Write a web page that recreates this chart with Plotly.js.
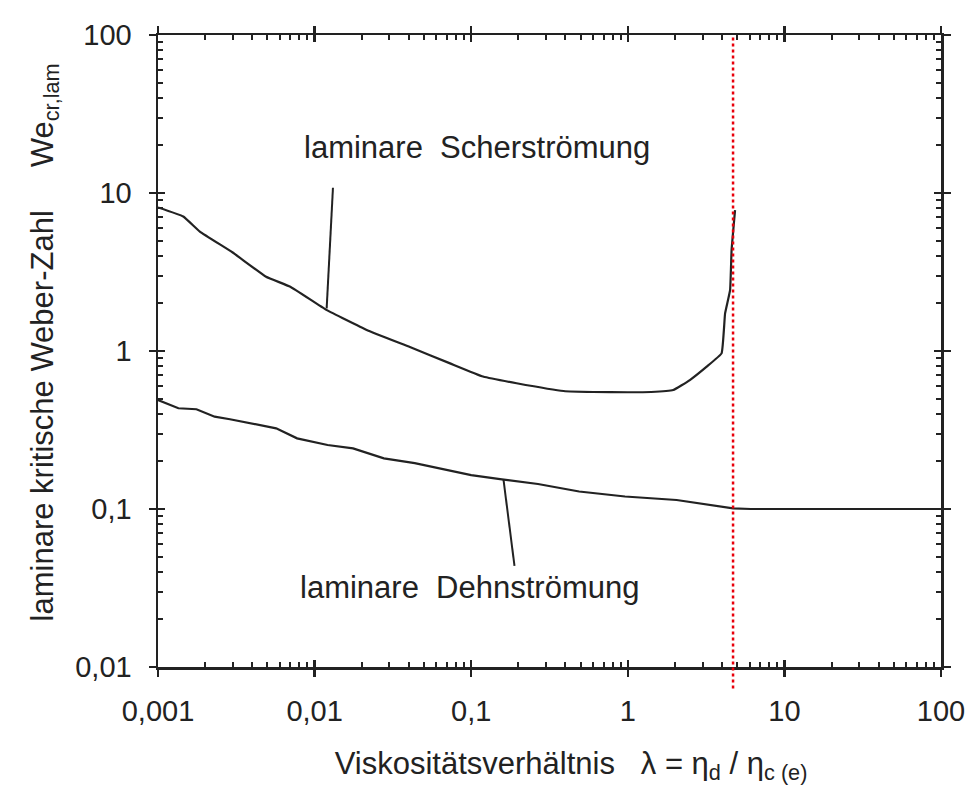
<!DOCTYPE html>
<html>
<head>
<meta charset="utf-8">
<script src="https://cdn.plot.ly/plotly-3.0.1.min.js"></script>
<style>html,body{margin:0;padding:0;background:#fff;}#chart{width:967px;height:795px;}</style>
</head>
<body>
<div id="chart"></div>
<script>
// Laminar shear flow (Scherströmung)
const shearLambda = [0.001, 0.00145, 0.00185, 0.003, 0.0049, 0.007, 0.0119, 0.0215, 0.0406, 0.0733, 0.119, 0.195, 0.389, 0.6, 1.0, 1.41, 1.95, 2.49, 3.19, 3.97, 4.18, 4.5, 4.6, 4.84];
const shearWe     = [8.1, 7.1, 5.7, 4.2, 2.95, 2.55, 1.82, 1.36, 1.06, 0.835, 0.689, 0.625, 0.558, 0.55, 0.548, 0.55, 0.566, 0.655, 0.796, 0.966, 1.73, 2.43, 4.36, 7.8];

// Laminar elongational flow (Dehnströmung)
const dehnLambda = [0.001, 0.00135, 0.00176, 0.0023, 0.00288, 0.00568, 0.00773, 0.0121, 0.0176, 0.0277, 0.0436, 0.0635, 0.1, 0.157, 0.267, 0.489, 0.96, 2.05, 3.74, 4.7, 6.1, 100];
const dehnWe     = [0.49, 0.434, 0.428, 0.384, 0.37, 0.324, 0.28, 0.254, 0.242, 0.209, 0.195, 0.181, 0.164, 0.154, 0.144, 0.129, 0.12, 0.114, 0.1045, 0.101, 0.1, 0.1];

// Marked viscosity ratio (red dotted line)
const criticalLambda = 4.7;

// Tick labels
const xTickVals = [0.001, 0.01, 0.1, 1, 10, 100];
const xTickText = ['0,001', '0,01', '0,1', '1', '10', '100'];
const yTickVals = [0.01, 0.1, 1, 10, 100];
const yTickText = ['0,01', '0,1', '1', '10', '100'];

// Leader lines from labels to curves: [lambda, We] at curve end and label end
const shearLeader = [[0.01194, 1.86], [0.0131, 10.8]];
const dehnLeader  = [[0.1607, 0.154], [0.189, 0.0437]];

const labelShear = 'laminare&nbsp;&nbsp;Scherströmung';
const labelDehn = 'laminare&nbsp;&nbsp;Dehnströmung';

// minor tick positions (2..9 within each decade)
function minorTicks(decades) {
  const out = [];
  decades.slice(0, -1).forEach(d => { for (let k = 2; k <= 9; k++) out.push(k * d); });
  return out;
}
const xMinor = minorTicks(xTickVals);
const yMinor = minorTicks(yTickVals);

const ink = '#222222';
const font = 'Liberation Sans, Arial, sans-serif';

const traces = [
  {x: shearLambda, y: shearWe, mode: 'lines', line: {color: ink, width: 2.2, shape: 'spline', smoothing: 0.3}, name: 'Scherströmung', showlegend: false, hoverinfo: 'skip'},
  {x: dehnLambda, y: dehnWe, mode: 'lines', line: {color: ink, width: 2.2}, name: 'Dehnströmung', showlegend: false, hoverinfo: 'skip'},
  {x: [1], y: [1], xaxis: 'x2', yaxis: 'y2', mode: 'markers', marker: {opacity: 0}, showlegend: false, hoverinfo: 'skip'}
];

const axisCommon = {
  type: 'log',
  showgrid: false,
  zeroline: false,
  showline: true,
  linecolor: ink,
  linewidth: 2.5,
  mirror: 'allticks',
  tickcolor: ink,
  tickwidth: 2.5,
  ticks: 'outside',
  ticklen: 7,
  tickmode: 'array',
  tickfont: {family: font, size: 29, color: ink}
};

function innerAxis(range, anchor, vals) {
  return {type: 'log', range: range, anchor: anchor, domain: [0, 1], showgrid: false, zeroline: false,
          showline: true, linecolor: ink, linewidth: 2.5, showticklabels: false,
          tickmode: 'array', tickvals: vals, ticks: 'inside', ticklen: 7, tickwidth: 2.5,
          tickcolor: ink, mirror: 'allticks'};
}

const layout = {
  width: 967,
  height: 795,
  margin: {l: 158, r: 26, t: 35, b: 128},
  paper_bgcolor: '#ffffff',
  plot_bgcolor: 'rgba(0,0,0,0)',
  showlegend: false,
  font: {family: font, color: ink},
  xaxis: Object.assign({}, axisCommon, {
    range: [-3, 2],
    domain: [0, 1],
    tickvals: xTickVals,
    ticktext: xTickText,
    ticklabelstandoff: 10,
    minor: {tickmode: 'array', tickvals: xMinor, ticks: 'inside', ticklen: 5, tickwidth: 2, tickcolor: ink},
    title: {text: '&nbsp;&nbsp;&nbsp;&nbsp;&nbsp;Viskositätsverhältnis&nbsp;&nbsp;&nbsp;λ = η<sub>d</sub> / η<sub>c (e)</sub>', font: {family: font, size: 31, color: ink}, standoff: 26}
  }),
  yaxis: Object.assign({}, axisCommon, {
    range: [-2, 2],
    domain: [0, 1],
    tickvals: yTickVals,
    ticktext: yTickText,
    ticklabelstandoff: 11,
    minor: {tickmode: 'array', tickvals: yMinor, ticks: 'inside', ticklen: 5, tickwidth: 2, tickcolor: ink},
    title: {text: '&nbsp;&nbsp;laminare kritische Weber-Zahl&nbsp;&nbsp;&nbsp;&nbsp;&nbsp;We<sub>cr,lam</sub>', font: {family: font, size: 31, color: ink}, standoff: 13}
  }),
  xaxis2: innerAxis([-3, 2], 'y2', xTickVals),
  yaxis2: innerAxis([-2, 2], 'x2', yTickVals),
  shapes: [
    {type: 'line', xref: 'x', yref: 'paper', x0: criticalLambda, x1: criticalLambda, y0: -0.034, y1: 1,
     line: {color: '#e8000b', width: 2.5, dash: 'dot'}, layer: 'above'},
    {type: 'line', xref: 'x', yref: 'y', x0: shearLeader[0][0], y0: shearLeader[0][1], x1: shearLeader[1][0], y1: shearLeader[1][1],
     line: {color: ink, width: 2}},
    {type: 'line', xref: 'x', yref: 'y', x0: dehnLeader[0][0], y0: dehnLeader[0][1], x1: dehnLeader[1][0], y1: dehnLeader[1][1],
     line: {color: ink, width: 2}}
  ],
  annotations: [
    {xref: 'x', yref: 'y', x: -0.963, y: 1.285, text: labelShear, showarrow: false, xanchor: 'center', yanchor: 'middle', font: {family: font, size: 31, color: ink}},
    {xref: 'x', yref: 'y', x: -1.014, y: -1.494, text: labelDehn, showarrow: false, xanchor: 'center', yanchor: 'middle', font: {family: font, size: 31, color: ink}}
  ]
};

Plotly.newPlot('chart', traces, layout, {displayModeBar: false, staticPlot: true});
</script>
</body>
</html>
